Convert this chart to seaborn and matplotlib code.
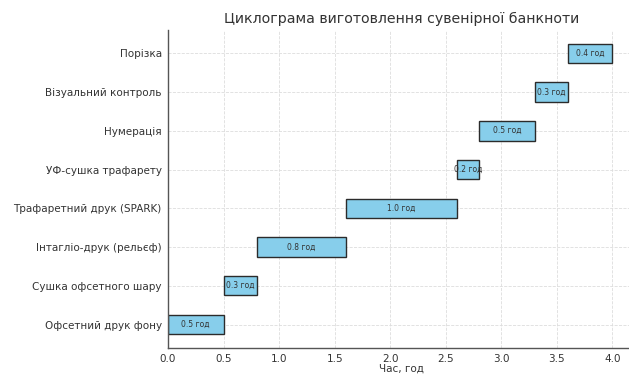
import matplotlib
matplotlib.use('Agg')
import matplotlib.pyplot as plt
import seaborn as sns
import pandas as pd

# Stages in production order (first one drawn at the bottom)
tasks = [
    "Офсетний друк фону",
    "Сушка офсетного шару",
    "Інтагліо-друк (рельєф)",
    "Трафаретний друк (SPARK)",
    "УФ-сушка трафарету",
    "Нумерація",
    "Візуальний контроль",
    "Порізка",
]
starts = [0.0, 0.5, 0.8, 1.6, 2.6, 2.8, 3.3, 3.6]
durations = [0.5, 0.3, 0.8, 1.0, 0.2, 0.5, 0.3, 0.4]
x_ticks = [0.0, 0.5, 1.0, 1.5, 2.0, 2.5, 3.0, 3.5, 4.0]

sns.set_style("white")
plt.rcParams['font.family'] = ['DejaVu Sans']

df = pd.DataFrame({"task": tasks, "start": starts, "duration": durations})
order = tasks[::-1]  # seaborn puts the first category on top
ordered = df.set_index("task").loc[order]

fig = plt.figure(figsize=(6.29, 3.76), dpi=100)
ax = fig.add_axes([0.267, 0.075, 0.742, 0.845])

sns.barplot(data=df, x="duration", y="task", order=order, orient="h",
            width=0.5, errorbar=None, color="#87CEEB", saturation=1,
            edgecolor="#2b2b2b", linewidth=1.0,
            left=ordered["start"].values, ax=ax)

# duration label in the middle of each bar
for i, (task, row) in enumerate(ordered.iterrows()):
    ax.text(row["start"] + row["duration"] / 2, i, f"{row['duration']:.1f} год",
            ha="center", va="center", fontsize=5.5, color="#333333")

ax.set_xlim(0, 4.2)
ax.set_ylim(7.6, -0.6)
ax.set_xticks(x_ticks)
ax.set_xticklabels([f"{t:.1f}" for t in x_ticks])
ax.grid(True, linestyle="--", linewidth=0.6, color="#dddddd")
ax.set_axisbelow(True)
for side in ["top", "right"]:
    ax.spines[side].set_visible(False)
for side in ["left", "bottom"]:
    ax.spines[side].set_color("#555555")
    ax.spines[side].set_linewidth(1.0)
ax.tick_params(axis="both", labelsize=7.5, colors="#333333", length=2.5, width=0.6, pad=2)
ax.set_ylabel("")
ax.set_xlabel("Час, год", fontsize=7.5, color="#333333", labelpad=0)
ax.set_title("Циклограма виготовлення сувенірної банкноти", fontsize=10.2,
             color="#333333", pad=5)

fig.savefig("out.png", dpi=100)
